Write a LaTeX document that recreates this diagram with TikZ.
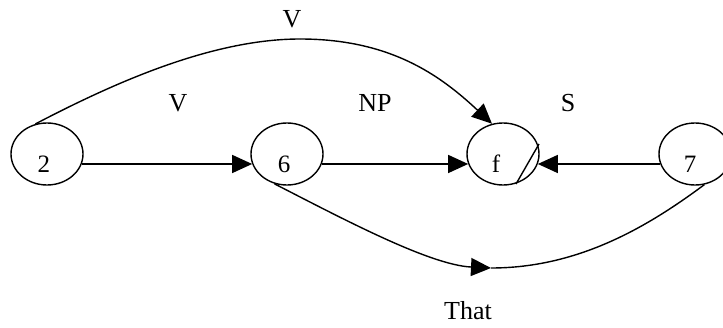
\documentclass[tikz,border=0pt]{standalone}
\usepackage{fontspec}
\setmainfont{Liberation Serif}
\usetikzlibrary{shapes.geometric,arrows.meta,calc}
\begin{document}
\begin{tikzpicture}[x=1pt,y=-1pt,
  state/.style={draw,ellipse,line width=1.4pt,minimum width=72pt,minimum height=62pt,inner sep=0pt},
  lbl/.style={font=\fontsize{26}{30}\selectfont,inner sep=0pt},
  statetext/.style={font=\fontsize{25}{29}\selectfont,inner sep=0pt,anchor=base},
  conn/.style={line width=1.4pt},
  arr/.style={conn,-{Triangle[length=20pt,width=18pt]}}]
\useasboundingbox (0,0) rectangle (723,327);
\clip (0,0) rectangle (723,327);
\node[state] (n2) at (47,154) {};
\node[state] (n6) at (287,154) {};
\node[state] (nf) at (503,154) {};
\node[state] (n7) at (695,154) {};
\node[statetext] (t2) at (44,172) {2};
\node[statetext] (t6) at (284,172) {6};
\node[statetext] (tf) at (496,172) {f};
\node[statetext] (t7) at (690,172) {7};
\draw[conn] ($(nf)+(36,-10)$) -- ($(nf)+(13,30)$);
\node[lbl] (lv1) at (292,19) {V};
\node[lbl] (lv2) at (178,103) {V};
\node[lbl] (lnp) at (375,103) {NP};
\node[lbl] (ls) at (568,103) {S};
\node[lbl] (lthat) at (468,311) {That};
\coordinate (top) at (300,39);
\coordinate (mid) at (491,268);
\draw[arr] (n2.-16) -- (n6.196);
\draw[arr] (n6.-16) -- (nf.196);
\draw[arr] (n7.196) -- (nf.-16);
\draw[conn] (n2.111) .. controls (110,85) and (210,39) .. (top);
\draw[arr] (top) .. controls (390,39) and (440,75) .. (nf.110);
\draw[arr] (n6.247) .. controls (345,220) and (430,265) .. (mid);
\draw[conn] (mid) .. controls (580,268) and (650,225) .. (n7.287);
\end{tikzpicture}
\end{document}
